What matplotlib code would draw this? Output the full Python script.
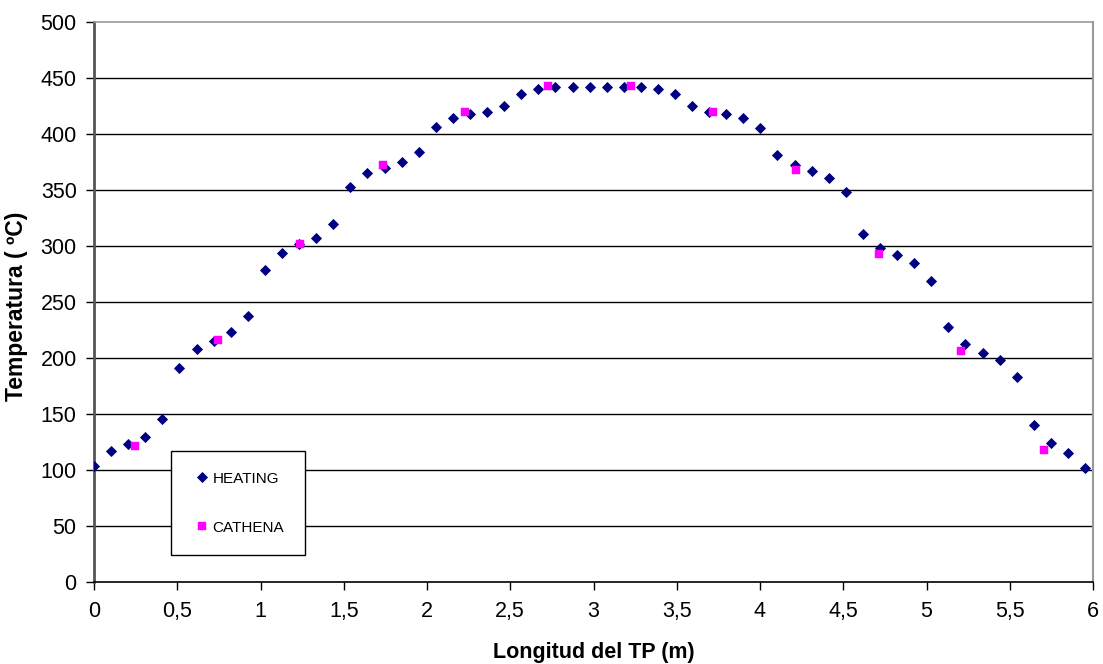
import matplotlib
matplotlib.use("Agg")
import matplotlib.pyplot as plt

plt.rcParams['font.family'] = ['Liberation Sans', 'DejaVu Sans']

# HEATING series
heating_x = [0.000, 0.103, 0.205, 0.308, 0.411, 0.513, 0.616, 0.718, 0.821, 0.924,
             1.026, 1.129, 1.232, 1.334, 1.437, 1.540, 1.642, 1.745, 1.847, 1.950,
             2.053, 2.155, 2.258, 2.361, 2.463, 2.566, 2.668, 2.771, 2.874, 2.976,
             3.079, 3.182, 3.284, 3.387, 3.489, 3.592, 3.695, 3.797, 3.900, 4.003,
             4.105, 4.208, 4.311, 4.413, 4.516, 4.618, 4.721, 4.824, 4.926, 5.029,
             5.132, 5.234, 5.337, 5.439, 5.542, 5.645, 5.747, 5.850, 5.953]
heating_t = [104, 117, 123, 130, 146, 191, 208, 215, 223, 238,
             279, 294, 302, 307, 320, 353, 365, 370, 375, 384,
             406, 414, 418, 420, 425, 436, 440, 442, 442, 442,
             442, 442, 442, 440, 436, 425, 420, 418, 414, 405,
             381, 372, 367, 361, 348, 311, 298, 292, 285, 269,
             228, 213, 205, 198, 183, 140, 124, 115, 102]

# CATHENA series
cathena_x = [0.245, 0.742, 1.237, 1.734, 2.231, 2.728, 3.223, 3.720, 4.217, 4.713, 5.209, 5.707]
cathena_t = [122, 216, 302, 372, 420, 443, 443, 420, 368, 293, 206, 118]

x_ticks = [0, 0.5, 1, 1.5, 2, 2.5, 3, 3.5, 4, 4.5, 5, 5.5, 6]
x_tick_labels = ['0', '0,5', '1', '1,5', '2', '2,5', '3', '3,5', '4', '4,5', '5', '5,5', '6']
y_ticks = [0, 50, 100, 150, 200, 250, 300, 350, 400, 450, 500]

fig = plt.figure(figsize=(11.03, 6.64), dpi=100)
ax = fig.add_axes([94 / 1103, 1 - 582.3 / 664, 999 / 1103, 560.3 / 664])

for yv in y_ticks[1:-1]:
    ax.axhline(yv, color='black', lw=1.0, zorder=1)

ax.plot(heating_x, heating_t, linestyle='none', marker='D', ms=5.0, color='#000080',
        mec='#000080', mew=0.6, label='HEATING', zorder=3)
ax.plot(cathena_x, cathena_t, linestyle='none', marker='s', ms=6.4, color='#FF00FF',
        mec='#FF00FF', mew=0.3, label='CATHENA', zorder=4)

ax.set_xlim(0, 6)
ax.set_ylim(0, 500)
ax.set_xticks(x_ticks)
ax.set_xticklabels(x_tick_labels)
ax.set_yticks(y_ticks)
ax.tick_params(axis='both', direction='out', length=5.5, width=1.0, color='black',
               labelsize=15.5, labelcolor='black')
ax.tick_params(axis='x', pad=8)
ax.tick_params(axis='y', pad=7)

ax.spines['left'].set_color('#555555')
ax.spines['left'].set_linewidth(2.0)
ax.spines['bottom'].set_color('black')
ax.spines['bottom'].set_linewidth(1.2)
ax.spines['top'].set_color('#999999')
ax.spines['top'].set_linewidth(1.2)
ax.spines['right'].set_color('#999999')
ax.spines['right'].set_linewidth(1.5)

ax.set_xlabel('Longitud del TP (m)', fontsize=15.5, fontweight='bold')
ax.set_ylabel('Temperatura ( ºC)', fontsize=16.5, fontweight='bold')
ax.xaxis.set_label_coords(0.5, -0.106)
ax.yaxis.set_label_coords(-0.066, 0.492)

leg = ax.legend(loc='upper left', bbox_to_anchor=(0.0768, 0.2343), borderaxespad=0,
                fontsize=11, frameon=True, fancybox=False, framealpha=1,
                edgecolor='black', labelspacing=2.3, borderpad=1.35,
                handlelength=1.4, handletextpad=0.0, numpoints=1)
leg.get_frame().set_linewidth(1.0)
leg.set_zorder(5)

fig.savefig('out.png', dpi=100, facecolor='white')
